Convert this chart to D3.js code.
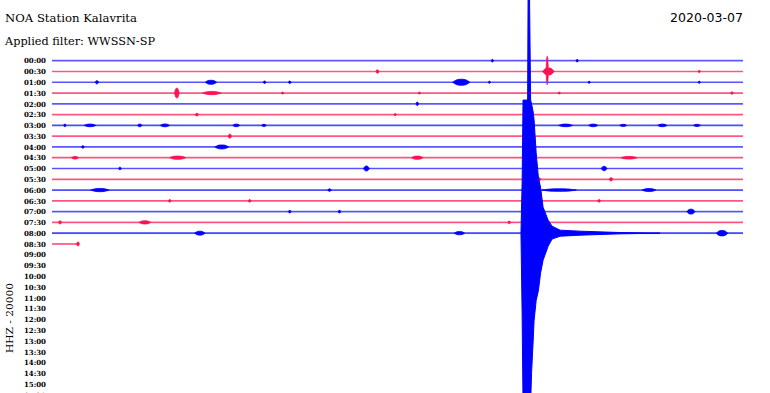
<!DOCTYPE html>
<html>
<head>
<meta charset="utf-8">
<script src="https://cdn.jsdelivr.net/npm/d3@7"></script>
<style>
    body { margin: 0; background: #fff; }
    svg { display: block; }
</style>
</head>
<body>
<svg id="heli" width="770" height="393"></svg>
<script>
const stationName = 'NOA Station Kalavrita';
const filterName = 'Applied filter: WWSSN-SP';
const dayLabel = '2020-03-07';
const channelLabel = 'HHZ - 20000';

// one label per half-hour row
const rowLabels = [
    '00:00', '00:30', '01:00', '01:30', '02:00', '02:30', '03:00', '03:30',
    '04:00', '04:30', '05:00', '05:30', '06:00', '06:30', '07:00', '07:30',
    '08:00', '08:30', '09:00', '09:30', '10:00', '10:30', '11:00', '11:30',
    '12:00', '12:30', '13:00', '13:30', '14:00', '14:30', '15:00', '15:30'
];

// background noise per recorded row, counts
const rowNoise = [500, 500, 700, 600, 500, 500, 1300, 500, 700, 800, 600, 600, 1200, 600, 700, 700, 1800, 600];
// the last row stops here (minutes into the row)
const lastRowEnd = 1.13;

// small arrivals: [row, minute, up (counts), down (counts), duration (min)]
const events = [
    [0, 19.12, 2400, 2400, 0.1], [0, 22.8, 2400, 2400, 0.1],
    [1, 14.13, 3200, 3200, 0.12], [1, 21.5, 28000, 24000, 0.1], [1, 21.55, 6500, 6500, 0.5], [1, 28.1, 2000, 2000, 0.1],
    [2, 1.95, 3000, 3000, 0.15], [2, 6.9, 3700, 3700, 0.5], [2, 9.23, 2400, 2400, 0.12], [2, 10.32, 2400, 2400, 0.12],
    [2, 17.77, 5600, 5600, 0.75], [2, 18.99, 2000, 2000, 0.1], [2, 23.32, 2000, 2000, 0.1], [2, 28.1, 2000, 2000, 0.1],
    [3, 5.42, 9000, 9000, 0.2], [3, 6.94, 3000, 3000, 0.8], [3, 10.01, 2000, 2000, 0.1], [3, 15.95, 2000, 2000, 0.1],
    [3, 22.02, 2000, 2000, 0.1], [3, 29.52, 2400, 2400, 0.1],
    [4, 15.86, 3200, 3200, 0.12],
    [5, 6.29, 2400, 2400, 0.15], [5, 14.9, 2000, 2000, 0.1],
    [6, 0.56, 2400, 2400, 0.1], [6, 1.65, 2400, 2400, 0.5], [6, 3.81, 2400, 2400, 0.2], [6, 4.9, 2600, 2600, 0.4],
    [6, 8.0, 2400, 2400, 0.3], [6, 9.2, 2000, 2000, 0.2], [6, 22.3, 2400, 2400, 0.6], [6, 23.5, 2400, 2400, 0.4],
    [6, 24.8, 2000, 2000, 0.3], [6, 26.5, 2400, 2400, 0.4], [6, 28.0, 2000, 2000, 0.3],
    [7, 7.72, 3700, 3700, 0.15],
    [8, 1.34, 2400, 2400, 0.12], [8, 7.37, 3700, 3700, 0.6],
    [9, 1.0, 2400, 2400, 0.3], [9, 5.46, 3000, 3000, 0.7], [9, 15.86, 3000, 3000, 0.5], [9, 25.05, 2400, 2400, 0.7],
    [10, 2.95, 2400, 2400, 0.12], [10, 13.65, 4600, 4600, 0.25], [10, 23.97, 4000, 4000, 0.25],
    [11, 21.15, 3000, 3000, 0.15], [11, 24.27, 3000, 3000, 0.15],
    [12, 2.08, 3000, 3000, 0.8], [12, 12.05, 2400, 2400, 0.15], [12, 22.02, 2400, 2400, 1.5], [12, 25.92, 2800, 2800, 0.6],
    [13, 5.11, 2400, 2400, 0.12], [13, 8.58, 2400, 2400, 0.12], [13, 23.75, 2400, 2400, 0.12],
    [14, 10.32, 2400, 2400, 0.12], [14, 12.48, 2400, 2400, 0.12], [14, 27.74, 4600, 4600, 0.35],
    [15, 0.35, 3000, 3000, 0.12], [15, 4.03, 3000, 3000, 0.5], [15, 19.85, 2400, 2400, 0.12],
    [16, 6.42, 3700, 3700, 0.45], [16, 17.69, 3000, 3000, 0.45], [16, 29.09, 5000, 5000, 0.5],
    [17, 1.13, 3700, 3700, 0.12]
];

// the big one on the 08:00 row: [minute, up (counts), down (counts)]
const quakeRow = 16;
const quakeEnvelope = [
    [20.36, 0, 0], [20.41, 93000, 149000], [20.45, 247000, 316000], [20.65, 247000, 316000],
    [20.67, 446000, 316000], [20.73, 446000, 316000], [20.78, 247000, 316000], [20.82, 240000, 260000],
    [20.89, 225000, 200000], [20.93, 210000, 162000], [21.02, 149000, 125000], [21.12, 102000, 106000],
    [21.21, 85500, 74400], [21.32, 48300, 50200], [21.54, 24200, 24200], [21.71, 13000, 11000],
    [22.06, 5600, 5600], [22.93, 3700, 3700], [24.66, 1200, 1200], [26.4, 0, 0]
];

const width = 770;
const height = 393;
const plotLeft = 52;
const plotRight = 743;
const firstRowY = 60.7;
const rowStep = 10.78;
const blue = '#0000ff';
const red = '#ff1050';
const blueLine = '#6464ff';
const redLine = '#ff6088';
const serif = '"DejaVu Serif", "Liberation Serif", serif';

const svg = d3.select('#heli');

const x = d3.scaleLinear().domain([0, 30]).range([plotLeft, plotRight]);
const y = d3.scaleLinear()
    .domain([0, rowLabels.length - 1])
    .range([firstRowY, firstRowY + (rowLabels.length - 1) * rowStep]);
// 20000 counts per row spacing
const amp = d3.scaleLinear().domain([0, 20000]).range([0, rowStep]);

// headings
svg.append('text')
    .attr('x', 5).attr('y', 22)
    .attr('textLength', 132).attr('lengthAdjust', 'spacingAndGlyphs')
    .style('font', `11.5px ${serif}`)
    .text(stationName);
svg.append('text')
    .attr('x', 5).attr('y', 45)
    .attr('textLength', 150).attr('lengthAdjust', 'spacingAndGlyphs')
    .style('font', `11.5px ${serif}`)
    .text(filterName);
svg.append('text')
    .attr('x', plotRight).attr('y', 22)
    .attr('text-anchor', 'end')
    .attr('textLength', 73).attr('lengthAdjust', 'spacingAndGlyphs')
    .style('font', '11.5px "DejaVu Sans", sans-serif')
    .text(dayLabel);
svg.append('text')
    .attr('transform', 'translate(13,318) rotate(-90)')
    .attr('text-anchor', 'middle')
    .attr('textLength', 70).attr('lengthAdjust', 'spacingAndGlyphs')
    .style('font', `9.5px ${serif}`)
    .text(channelLabel);

// row time labels
const axis = svg.append('g')
    .attr('transform', 'translate(46,0)')
    .call(d3.axisLeft(y)
        .tickValues(d3.range(rowLabels.length))
        .tickFormat(i => rowLabels[i])
        .tickSize(0)
        .tickPadding(0));
axis.select('.domain').remove();
axis.selectAll('text')
    .style('font', `bold 7px ${serif}`)
    .attr('fill', '#000');

const area = d3.area()
    .x(d => x(d[0]))
    .y0(d => d.base + amp(d[2]))
    .y1(d => d.base - amp(d[1]));
const spindle = d3.area()
    .curve(d3.curveBasis)
    .x(d => x(d[0]))
    .y0(d => d.base + amp(d[2]))
    .y1(d => d.base - amp(d[1]));

const rows = d3.range(rowNoise.length);
const rowG = svg.append('g')
    .selectAll('g')
    .data(rows)
    .join('g');

rowG.append('path')
    .attr('fill', 'none')
    .attr('stroke', r => (r % 2 ? redLine : blueLine))
    .attr('stroke-width', 1.7)
    .attr('d', r => {
        const end = r === rows.length - 1 ? lastRowEnd : 30;
        return d3.line()([[x(0), y(r)], [x(end), y(r)]]);
    });

rowG.append('rect')
    .attr('x', x(0))
    .attr('width', r => (r === rows.length - 1 ? x(lastRowEnd) : x(30)) - x(0))
    .attr('y', r => y(r) - amp(rowNoise[r]))
    .attr('height', r => 2 * amp(rowNoise[r]))
    .attr('fill', r => (r % 2 ? red : blue))
    .attr('opacity', 0.25);

rowG.each(function (r) {
    const g = d3.select(this);
    const base = y(r);
    const col = r % 2 ? red : blue;
    events.filter(e => e[0] === r).forEach(e => {
        const [, m, up, down, dur] = e;
        const pts = [
            [m - dur / 2, 0, 0], [m - dur / 4, up, down], [m, up, down],
            [m + dur / 4, up, down], [m + dur / 2, 0, 0]
        ];
        pts.forEach(p => { p.base = base; });
        g.append('path')
            .attr('d', spindle(pts))
            .attr('fill', col)
            .attr('stroke', col)
            .attr('stroke-width', 0.8);
    });
    if (r === quakeRow) {
        const pts = quakeEnvelope.map(p => {
            const q = p.slice();
            q.base = base;
            return q;
        });
        g.append('path')
            .attr('d', area(pts))
            .attr('fill', blue)
            .attr('stroke', blue)
            .attr('stroke-width', 1);
    }
});
</script>
</body>
</html>
